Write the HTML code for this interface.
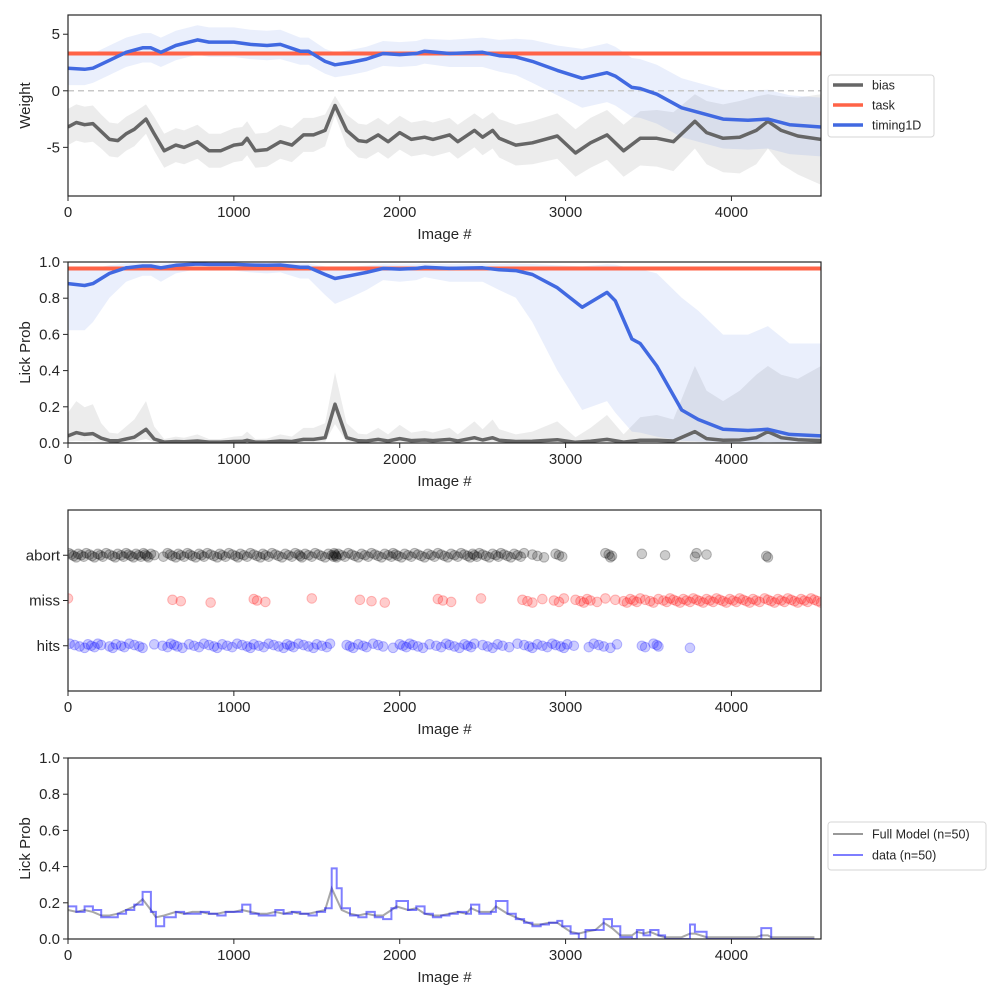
<!DOCTYPE html>
<html><head><meta charset="utf-8"><style>
body{margin:0;background:#fff;}
svg text{font-family:"Liberation Sans",Arial,sans-serif;fill:#262626;}
</style></head><body>
<svg id="fig" width="1000" height="1000" xmlns="http://www.w3.org/2000/svg"></svg>
<script>
// ---- Panel 1: weights ----
const biasX=[0,50,100,150,200,250,300,350,400,470,520,580,650,700,780,850,920,1000,1050,1080,1130,1200,1280,1350,1420,1480,1550,1610,1680,1750,1800,1870,1930,2000,2070,2150,2200,2300,2350,2450,2500,2560,2600,2700,2800,2950,3060,3150,3250,3350,3450,3550,3650,3780,3850,3950,4050,4150,4220,4300,4400,4540];
const biasW=[-3.2,-2.8,-3.0,-2.9,-3.6,-4.3,-4.4,-3.8,-3.4,-2.5,-3.8,-5.3,-4.8,-5.0,-4.5,-5.3,-5.3,-4.8,-4.7,-4.2,-5.3,-5.2,-4.5,-4.8,-3.9,-3.9,-3.5,-1.3,-3.5,-4.4,-4.5,-3.9,-4.5,-3.7,-4.3,-4.1,-4.3,-3.9,-4.5,-3.5,-4.1,-3.5,-4.2,-4.8,-4.6,-4.0,-5.5,-4.6,-3.9,-5.3,-4.2,-4.2,-4.5,-2.7,-3.7,-4.2,-4.1,-3.5,-2.7,-3.5,-4.0,-4.3];
const biasSE=[1.6,1.6,1.6,1.6,1.5,1.5,1.5,1.5,1.5,1.3,1.5,1.5,1.5,1.5,1.5,1.5,1.5,1.5,1.5,1.5,1.5,1.5,1.5,1.5,1.5,1.5,1.4,0.85,1.4,1.5,1.5,1.5,1.5,1.5,1.5,1.5,1.5,1.5,1.5,1.5,1.6,1.6,1.7,1.8,1.9,2.0,2.1,2.2,2.2,2.3,2.4,2.5,2.6,2.4,2.8,3.0,3.2,3.0,2.4,3.0,3.4,4.0];
const timX=[0,100,150,250,350,450,500,560,650,780,850,1000,1100,1200,1280,1400,1450,1550,1610,1700,1800,1900,2000,2100,2150,2300,2500,2600,2700,2800,2950,3100,3250,3300,3400,3450,3550,3700,3800,3950,4100,4220,4350,4540];
const timW=[2.0,1.9,2.0,2.7,3.4,3.8,3.8,3.4,4.0,4.5,4.3,4.3,4.1,4.0,4.1,3.5,3.5,2.6,2.3,2.5,2.8,3.3,3.2,3.3,3.5,3.3,3.4,3.1,3.0,2.6,1.8,1.1,1.6,1.3,0.3,0.2,-0.3,-1.5,-1.9,-2.5,-2.6,-2.5,-3.0,-3.2];
const timSE=[1.5,1.4,1.3,1.3,1.3,1.3,1.3,1.3,1.3,1.3,1.3,1.3,1.3,1.3,1.3,1.2,1.2,1.1,1.1,1.1,1.1,1.1,1.1,1.1,1.1,1.2,1.3,1.4,1.6,1.9,2.2,2.6,2.8,2.9,3.0,3.0,3.0,2.9,2.9,2.9,3.0,3.1,3.2,3.4];
const taskW=3.3;
// ---- Panel 3: outcome events ----
const abortX=[5,20,35,50,62,80,95,110,130,145,160,180,195,210,230,250,270,285,300,320,335,350,365,380,395,410,425,440,455,465,475,485,500,520,575,600,615,630,650,665,680,700,720,735,750,770,790,805,820,840,860,880,900,915,930,950,970,990,1010,1025,1040,1060,1080,1100,1120,1140,1160,1175,1190,1210,1230,1250,1270,1290,1310,1330,1350,1370,1390,1400,1410,1430,1450,1470,1490,1510,1530,1550,1570,1590,1600,1605,1610,1615,1620,1630,1650,1670,1690,1710,1730,1750,1770,1790,1810,1830,1850,1870,1890,1910,1930,1950,1960,1975,1990,2010,2030,2050,2070,2090,2110,2130,2150,2170,2190,2210,2230,2250,2270,2290,2310,2330,2350,2370,2390,2410,2425,2440,2450,2465,2480,2500,2520,2540,2560,2580,2595,2610,2630,2650,2670,2690,2710,2730,2750,2800,2830,2870,2940,2960,2980,3240,3260,3280,3270,3460,3600,3780,3790,3850,4210,4220];
const missX=[0,630,680,860,1120,1140,1190,1470,1760,1830,1910,2230,2260,2310,2490,2740,2770,2800,2860,2930,2960,2990,3060,3090,3110,3130,3150,3190,3240,3300,3350,3370,3390,3410,3430,3450,3480,3510,3530,3560,3590,3610,3630,3650,3670,3690,3710,3730,3750,3770,3790,3810,3830,3850,3870,3890,3910,3930,3950,3970,3990,4010,4030,4050,4070,4090,4110,4130,4150,4170,4200,4220,4240,4260,4280,4300,4320,4340,4360,4380,4400,4420,4440,4460,4480,4500,4520,4540];
const hitsX=[10,40,70,100,120,140,160,180,200,250,270,290,320,340,370,400,430,450,520,570,600,620,640,660,690,730,760,790,820,850,880,900,930,960,990,1020,1050,1080,1100,1120,1150,1180,1210,1240,1270,1300,1320,1340,1360,1390,1420,1450,1480,1500,1530,1560,1580,1680,1700,1720,1750,1780,1800,1840,1870,1900,1960,2000,2020,2040,2060,2080,2110,2140,2180,2220,2250,2280,2300,2330,2360,2390,2410,2430,2450,2500,2530,2560,2590,2620,2660,2710,2750,2780,2800,2830,2860,2890,2920,2940,2970,2990,3010,3050,3140,3170,3200,3230,3270,3310,3460,3480,3530,3550,3560,3750];
const catLabels=["hits","miss","abort"];
// ---- Panel 4: model vs data ----
const p4X=[0,50,100,150,200,250,300,350,400,450,500,530,580,650,700,750,800,850,900,950,1000,1050,1100,1150,1200,1250,1300,1350,1400,1450,1500,1550,1590,1620,1650,1700,1750,1800,1850,1900,1950,1980,2050,2100,2150,2200,2250,2300,2350,2400,2430,2480,2550,2580,2650,2700,2750,2800,2850,2900,2950,2980,3030,3080,3120,3180,3230,3280,3330,3400,3430,3470,3510,3560,3600,3700,3750,3780,3850,4150,4180,4220,4240,4500];
const dataP=[0.18,0.15,0.18,0.16,0.12,0.12,0.14,0.16,0.19,0.26,0.15,0.07,0.12,0.15,0.14,0.14,0.15,0.14,0.13,0.15,0.15,0.19,0.14,0.13,0.13,0.16,0.14,0.15,0.14,0.13,0.15,0.17,0.39,0.28,0.17,0.13,0.12,0.15,0.12,0.11,0.17,0.21,0.16,0.18,0.14,0.12,0.13,0.14,0.15,0.14,0.19,0.14,0.15,0.21,0.14,0.11,0.09,0.07,0.08,0.09,0.10,0.07,0.03,0.0,0.05,0.05,0.11,0.07,0.01,0.0,0.05,0.02,0.05,0.02,0.0,0.0,0.08,0.04,0.0,0.0,0.06,0.06,0.0,0.0];
const modelP=[0.16,0.15,0.16,0.15,0.13,0.13,0.14,0.16,0.18,0.22,0.16,0.12,0.13,0.15,0.14,0.15,0.15,0.14,0.14,0.15,0.15,0.16,0.15,0.14,0.14,0.15,0.14,0.15,0.14,0.14,0.15,0.16,0.28,0.22,0.16,0.14,0.13,0.14,0.13,0.13,0.16,0.18,0.16,0.17,0.14,0.13,0.13,0.14,0.15,0.14,0.17,0.15,0.15,0.18,0.14,0.12,0.10,0.08,0.08,0.09,0.09,0.07,0.04,0.03,0.04,0.05,0.09,0.06,0.02,0.02,0.04,0.03,0.04,0.02,0.01,0.01,0.03,0.03,0.01,0.01,0.02,0.02,0.01,0.01];
const xTicks=[0,1000,2000,3000,4000];
const p1Ticks=[5,0,-5];
const probTicks=[0,0.2,0.4,0.6,0.8,1.0];

const NS="http://www.w3.org/2000/svg";
const svg=document.getElementById('fig');
function el(tag,attrs,parent){const e=document.createElementNS(NS,tag);for(const k in attrs)e.setAttribute(k,attrs[k]);(parent||svg).appendChild(e);return e;}
const L=68,R=821,XMAX=4540;
const X=v=>L+v*(R-L)/XMAX;
function mkY(top,bot,lo,hi){return v=>bot-(v-lo)*(bot-top)/(hi-lo);}
const sig=v=>1/(1+Math.exp(-v));
function linePath(xs,ys,Y,f){return xs.map((x,i)=>(i?'L':'M')+X(x).toFixed(1)+' '+Y(f?f(ys[i]):ys[i]).toFixed(1)).join(' ');}
function bandPath(xs,c,se,Y,f){f=f||(v=>v);let d=xs.map((x,i)=>(i?'L':'M')+X(x).toFixed(1)+' '+Y(f(c[i]+se[i])).toFixed(1)).join(' ');for(let i=xs.length-1;i>=0;i--)d+='L'+X(xs[i]).toFixed(1)+' '+Y(f(c[i]-se[i])).toFixed(1);return d+'Z';}
function axes(name,top,bot,Y,yt,fmt,ylab){
  const g=el('g',{});
  
  
  xTicks.forEach(t=>{el('line',{x1:X(t),x2:X(t),y1:bot,y2:bot+5,stroke:'#262626'},g);
    const tx=el('text',{x:X(t),y:bot+21,'text-anchor':'middle','font-size':15},g);tx.textContent=t;
    });
  const xl=el('text',{x:(L+R)/2,y:bot+43,'text-anchor':'middle','font-size':15},g);xl.textContent='Image #';
  
  yt.forEach((t,i)=>{const y=Y(typeof t==='number'?t:i);el('line',{x1:L-5,x2:L,y1:y,y2:y,stroke:'#262626'},g);
    const tx=el('text',{x:L-8,y:y+5,'text-anchor':'end','font-size':15},g);tx.textContent=fmt(t);
    });
  if(ylab){const yl=el('text',{x:0,y:0,'text-anchor':'middle','font-size':15,transform:`translate(30,${(top+bot)/2}) rotate(-90)`},g);yl.textContent=ylab;
    }
  return g;
}
function frame(top,bot){const r=el('rect',{x:L,y:top,width:R-L,height:bot-top,fill:'none',stroke:'#262626','stroke-width':1.2});
  }
function clip(id,top,bot){const c=el('clipPath',{id:id});el('rect',{x:L,y:top,width:R-L,height:bot-top},c);}

// Panel 1
const Y1=mkY(15,196,-9.3,6.7);clip('c1',15,196);clip('c2',262,443);clip('c3',510,691);clip('c4',758,939);
const g1=el('g',{'clip-path':'url(#c1)'});

let e;
e=el('path',{d:bandPath(biasX,biasW,biasSE,Y1),fill:'#666',opacity:0.12},g1);
e=el('path',{d:bandPath(timX,timW,timSE.map(s=>Math.min(s,2.6)),Y1),fill:'#4169e1',opacity:0.11},g1);
e=el('rect',{x:L,y:Y1(taskW+0.15),width:R-L,height:Y1(taskW-0.15)-Y1(taskW+0.15),fill:'#ff6347',opacity:0.12},g1);
e=el('line',{x1:L,x2:R,y1:Y1(0),y2:Y1(0),stroke:'#c8c8c8','stroke-width':1.5,'stroke-dasharray':'6,4'},g1);
e=el('line',{x1:L,x2:R,y1:Y1(taskW),y2:Y1(taskW),stroke:'#ff6347','stroke-width':4},g1);
e=el('path',{d:linePath(biasX,biasW,Y1),fill:'none',stroke:'#666','stroke-width':3.5,'stroke-linejoin':'round'},g1);
e=el('path',{d:linePath(timX,timW,Y1),fill:'none',stroke:'#4169e1','stroke-width':3.5,'stroke-linejoin':'round'},g1);
frame(15,196);axes('weights-axes',15,196,Y1,p1Ticks,t=>String(t),'Weight');
// legend 1
const lg1=el('g',{});
el('rect',{x:828,y:75,width:106,height:62,rx:3,fill:'#fff',stroke:'#d6d6d6'},lg1);
[['bias','#666'],['task','#ff6347'],['timing1D','#4169e1']].forEach((it,i)=>{const y=85+i*20;
  el('line',{x1:833,x2:863,y1:y,y2:y,stroke:it[1],'stroke-width':3.5},lg1);
  const t=el('text',{x:872,y:y+4.5,'font-size':12.5},lg1);t.textContent=it[0];
  });

// Panel 2
const Y2=mkY(262,443,0,1);
const g2=el('g',{'clip-path':'url(#c2)'});
e=el('path',{d:bandPath(biasX,biasW,biasSE,Y2,sig),fill:'#666',opacity:0.12},g2);
e=el('path',{d:bandPath(timX,timW,timSE,Y2,sig),fill:'#4169e1',opacity:0.11},g2);
e=el('line',{x1:L,x2:R,y1:Y2(sig(taskW)),y2:Y2(sig(taskW)),stroke:'#ff6347','stroke-width':4},g2);
e=el('path',{d:linePath(biasX,biasW,Y2,sig),fill:'none',stroke:'#666','stroke-width':3.5,'stroke-linejoin':'round'},g2);
e=el('path',{d:linePath(timX,timW,Y2,sig),fill:'none',stroke:'#4169e1','stroke-width':3.5,'stroke-linejoin':'round'},g2);
frame(262,443);axes('lick-prob-axes',262,443,Y2,probTicks,t=>t.toFixed(1),'Lick Prob');

// Panel 3
const Y3=mkY(510,691,-1,3);
const g3=el('g',{'clip-path':'url(#c3)'});
[[hitsX,0,'#0000ff'],[missX,1,'#ff0000'],[abortX,2,'#000000']].forEach(s=>{
  s[0].forEach((x,i)=>{const c=el('circle',{cx:X(x),cy:Y3(s[1])+(((i*37)%7)-3)*0.7,r:4.8,fill:s[2],'fill-opacity':0.2,stroke:s[2],'stroke-opacity':0.25,'stroke-width':1},g3);
    });});
frame(510,691);axes('outcome-axes',510,691,Y3,catLabels,t=>t,null);

// Panel 4
const Y4=mkY(758,939,0,1);
function stepPath(xs,ys,Y){let d='';xs.forEach((x,i)=>{d+=(i?'L'+X(x).toFixed(1)+' '+Y(ys[i-1]).toFixed(1)+'L':'M')+X(x).toFixed(1)+' '+Y(ys[i]).toFixed(1);});return d;}
const g4=el('g',{'clip-path':'url(#c4)'});
e=el('path',{d:linePath(p4X,modelP,Y4),fill:'none',stroke:'#999','stroke-width':2,opacity:0.85},g4);
e=el('path',{d:stepPath(p4X,dataP,Y4),fill:'none',stroke:'#0000ff','stroke-width':2,opacity:0.5},g4);
frame(758,939);axes('model-axes',758,939,Y4,probTicks,t=>t.toFixed(1),'Lick Prob');
const lg4=el('g',{});
el('rect',{x:828,y:822,width:158,height:48,rx:3,fill:'#fff',stroke:'#d6d6d6'},lg4);
[['Full Model (n=50)','#999',1],['data (n=50)','#0000ff',0.5]].forEach((it,i)=>{const y=834+i*21;
  el('line',{x1:833,x2:863,y1:y,y2:y,stroke:it[1],'stroke-width':2,opacity:it[2]},lg4);
  const t=el('text',{x:872,y:y+4.5,'font-size':12.5},lg4);t.textContent=it[0];
  });
</script>
</body></html>
